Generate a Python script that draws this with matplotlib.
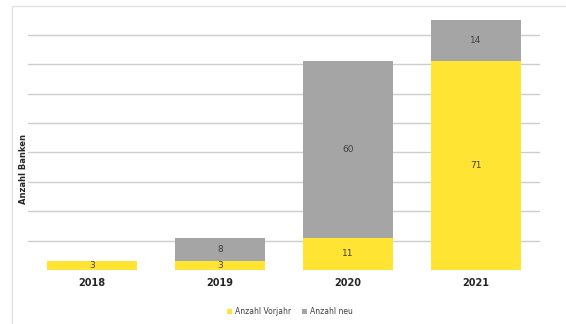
import matplotlib.pyplot as plt
from matplotlib.patches import Rectangle

years = ['2018', '2019', '2020', '2021']
vorjahr = [3, 3, 11, 71]
neu = [0, 8, 60, 14]

yellow = '#FFE433'
grey = '#A5A5A5'

fig = plt.figure(figsize=(5.66, 3.24), dpi=100)
ax = fig.add_axes([28/566, 54/324, 512/566, 258.7/324])

x = range(len(years))
b1 = ax.bar(x, vorjahr, width=0.71, color=yellow, label='Anzahl Vorjahr', zorder=2)
b2 = ax.bar(x, neu, width=0.71, bottom=vorjahr, color=grey, label='Anzahl neu', zorder=2)

for i in x:
    ax.text(i, vorjahr[i] / 2, str(vorjahr[i]), ha='center', va='center',
            fontsize=6.5, color='#404040', zorder=3)
    if neu[i] > 0:
        ax.text(i, vorjahr[i] + neu[i] / 2, str(neu[i]), ha='center', va='center',
                fontsize=6.5, color='#404040', zorder=3)

ax.set_xlim(-0.5, 3.5)
ax.set_ylim(0, 88)
ax.set_yticks(range(10, 90, 10))
ax.yaxis.grid(True, color='#CDCDCD', linewidth=1, zorder=0)
ax.tick_params(axis='y', length=0, labelleft=False)
ax.tick_params(axis='x', length=0, pad=6)
ax.set_xticks(list(x))
ax.set_xticklabels(years, fontsize=7, fontweight='bold', color='#262626')
for s in ax.spines.values():
    s.set_visible(False)

ax.set_ylabel('Anzahl Banken', fontsize=6, fontweight='bold', color='#262626')
ax.yaxis.set_label_coords(0.0, 0.39)

fig.legend(handles=[b1, b2], loc='center', bbox_to_anchor=(290/566, 12/324),
           ncol=2, frameon=False, fontsize=5.5, handlelength=0.6, handleheight=0.6,
           handletextpad=0.4, columnspacing=1.5, labelcolor='#404040')

fig.patches.append(Rectangle((12/566, -0.1), 1.2, (318/324) + 0.1,
                             transform=fig.transFigure, fill=False,
                             edgecolor='#E3E3E3', linewidth=1, clip_on=False))

fig.savefig('out.png', dpi=100)
